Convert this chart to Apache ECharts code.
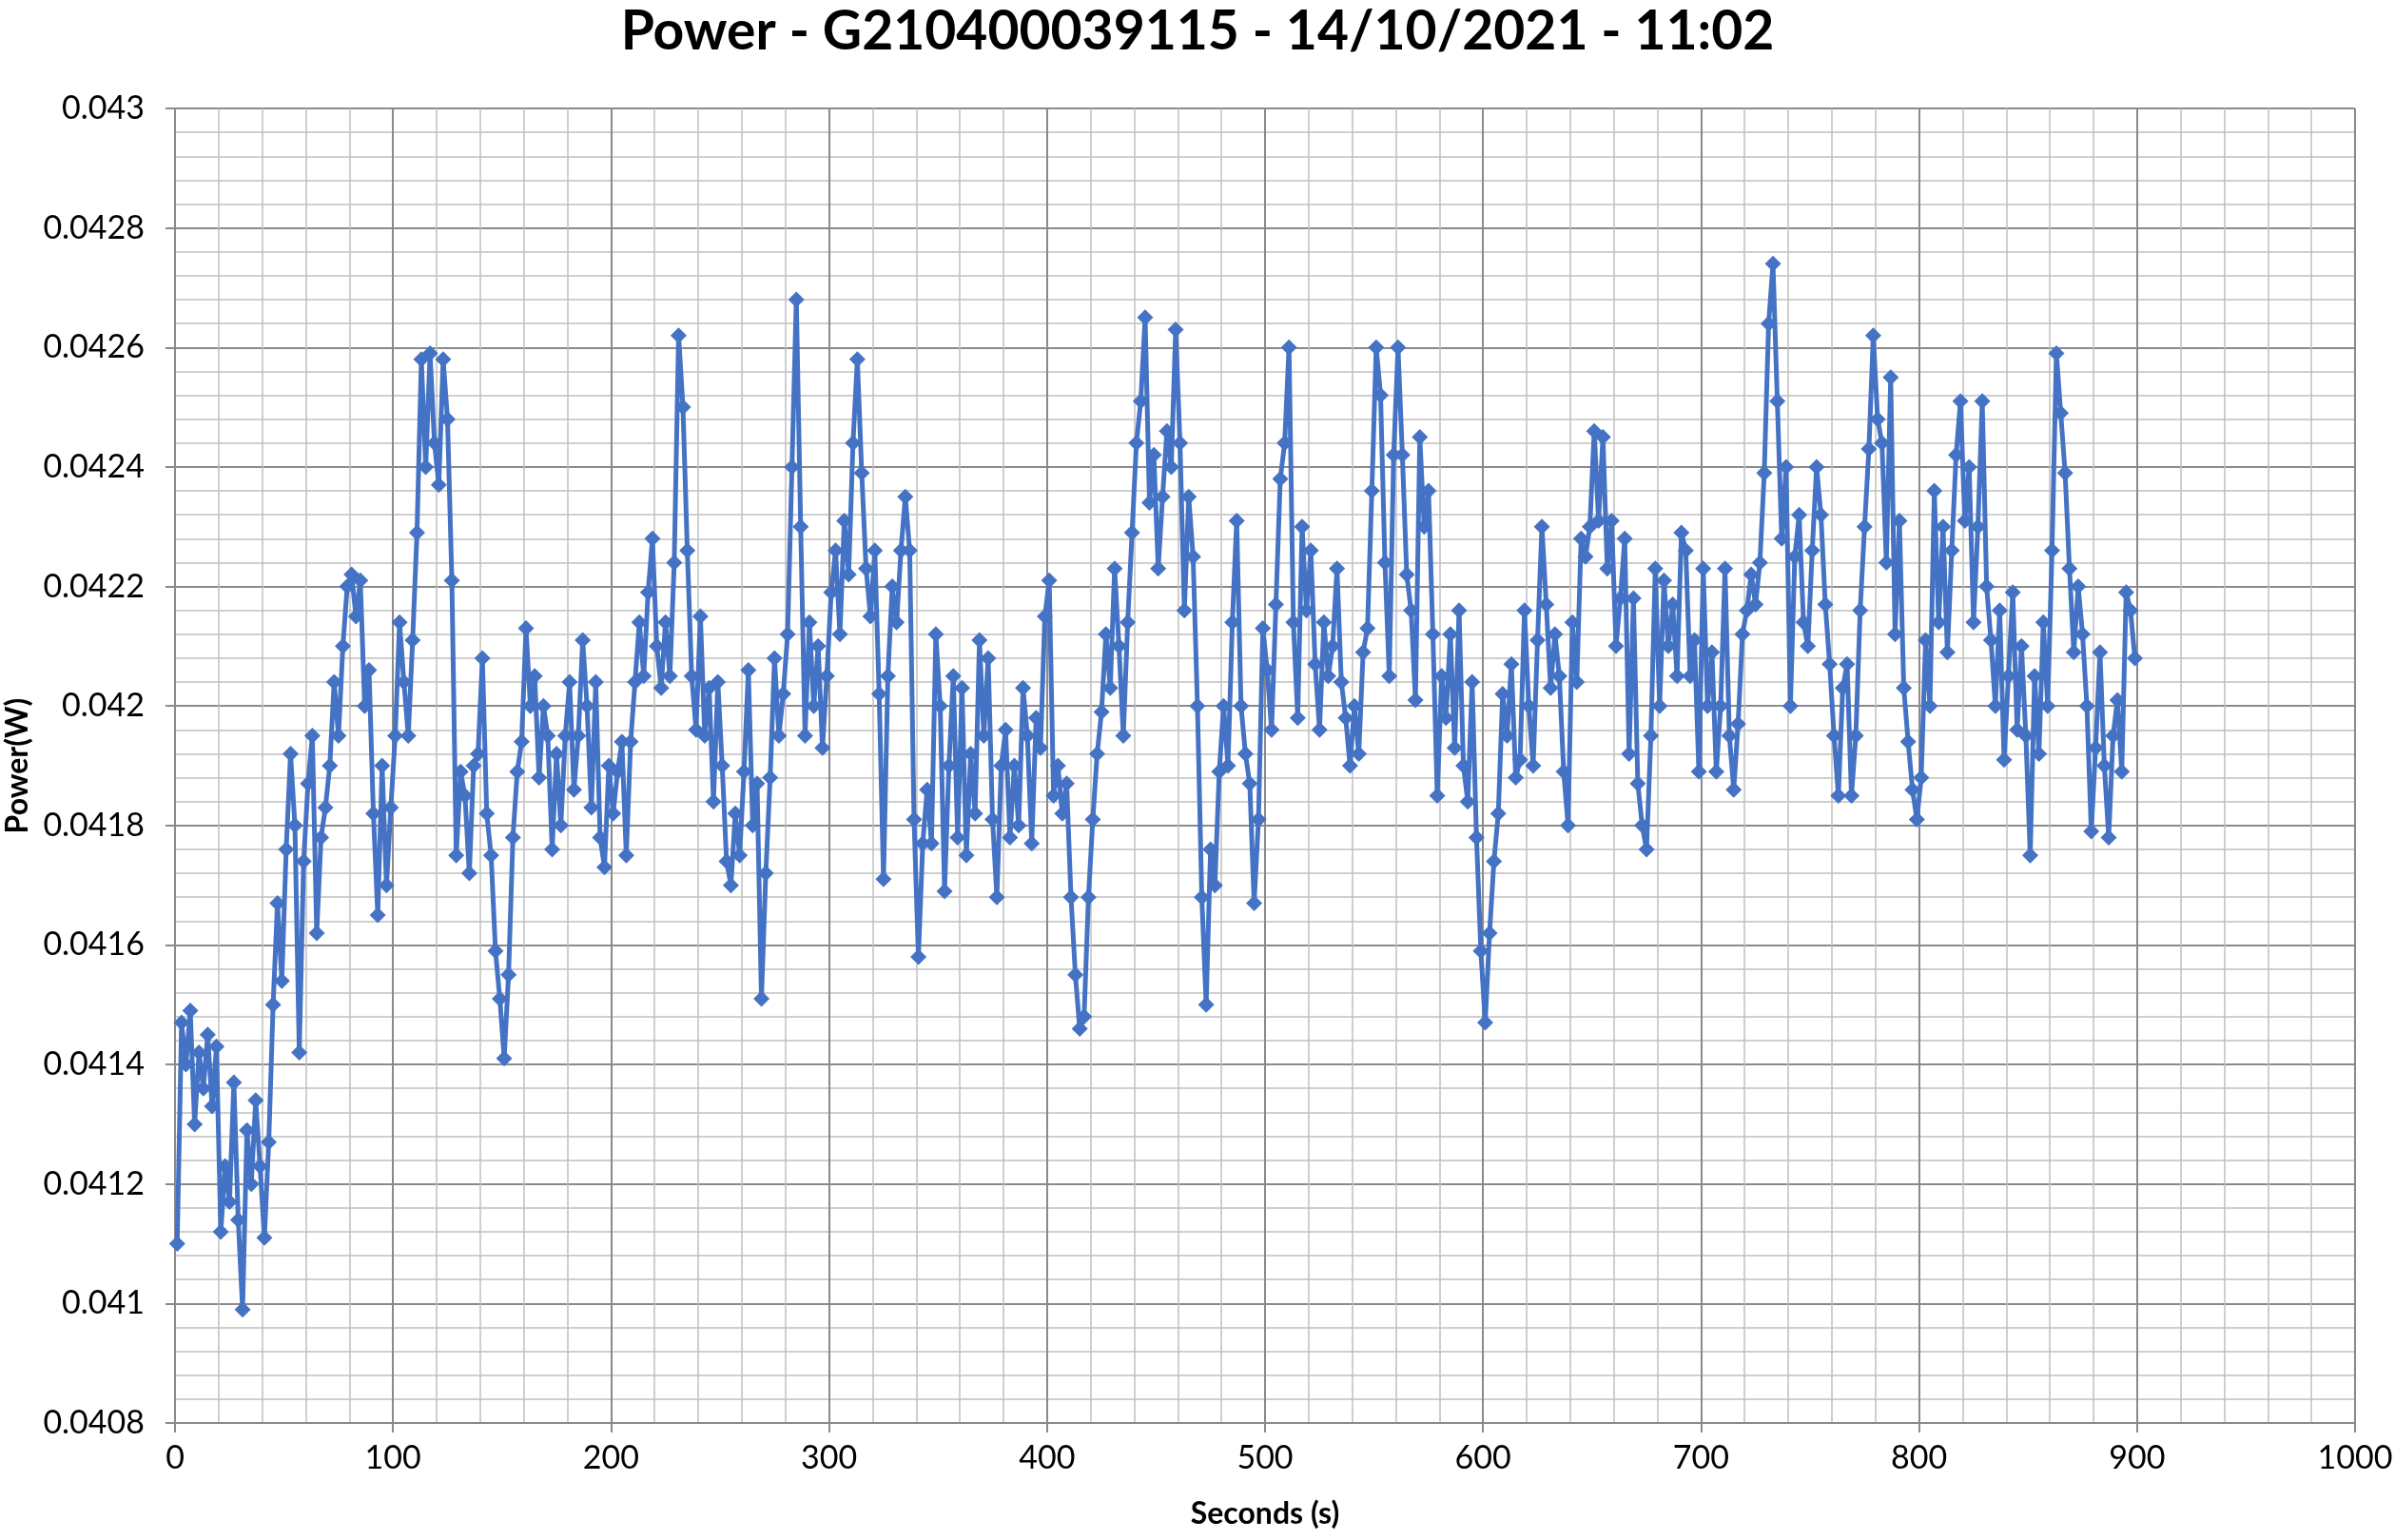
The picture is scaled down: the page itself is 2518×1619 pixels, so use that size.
<!DOCTYPE html>
<html>
<head>
<meta charset="utf-8">
<script src="https://cdn.jsdelivr.net/npm/echarts@6/dist/echarts.min.js"></script>
<style>
html,body{margin:0;padding:0;background:#fff;}
#chart{width:2518px;height:1619px;}
</style>
</head>
<body>
<div id="chart"></div>
<script>
// Chart text
const chartTitle = 'Power - G210400039115 - 14/10/2021 - 11:02';
const xAxisTitle = 'Seconds (s)';
const yAxisTitle = 'Power(W)';

// Axis ranges / ticks
const xTicks = [0, 100, 200, 300, 400, 500, 600, 700, 800, 900, 1000];
const yTicks = [0.0408, 0.041, 0.0412, 0.0414, 0.0416, 0.0418, 0.042, 0.0422, 0.0424, 0.0426, 0.0428, 0.043];

// Samples: one every 2 s, starting at 1 s
const sampleStart = 1;
const sampleStep = 2;
const power = [
  // 0-50 s
  0.04110,0.04147,0.04140,0.04149,0.04130,0.04142,0.04136,0.04145,0.04133,0.04143,
  0.04112,0.04123,0.04117,0.04137,0.04114,0.04099,0.04129,0.04120,0.04134,0.04123,
  0.04111,0.04127,0.04150,0.04167,0.04154,
  // 50-100 s
  0.04176,0.04192,0.04180,0.04142,0.04174,0.04187,0.04195,0.04162,0.04178,0.04183,
  0.04190,0.04204,0.04195,0.04210,0.04220,0.04222,0.04215,0.04221,0.04200,0.04206,
  0.04182,0.04165,0.04190,0.04170,0.04183,
  // 100-150 s
  0.04195,0.04214,0.04204,0.04195,0.04211,0.04229,0.04258,0.04240,0.04259,0.04244,
  0.04237,0.04258,0.04248,0.04221,0.04175,0.04189,0.04185,0.04172,0.04190,0.04192,
  0.04208,0.04182,0.04175,0.04159,0.04151,
  // 150-200 s
  0.04141,0.04155,0.04178,0.04189,0.04194,0.04213,0.04200,0.04205,0.04188,0.04200,
  0.04195,0.04176,0.04192,0.04180,0.04195,0.04204,0.04186,0.04195,0.04211,0.04200,
  0.04183,0.04204,0.04178,0.04173,0.04190,
  // 200-250 s
  0.04182,0.04189,0.04194,0.04175,0.04194,0.04204,0.04214,0.04205,0.04219,0.04228,
  0.04210,0.04203,0.04214,0.04205,0.04224,0.04262,0.04250,0.04226,0.04205,0.04196,
  0.04215,0.04195,0.04203,0.04184,0.04204,
  // 250-300 s
  0.04190,0.04174,0.04170,0.04182,0.04175,0.04189,0.04206,0.04180,0.04187,0.04151,
  0.04172,0.04188,0.04208,0.04195,0.04202,0.04212,0.04240,0.04268,0.04230,0.04195,
  0.04214,0.04200,0.04210,0.04193,0.04205,
  // 300-350 s
  0.04219,0.04226,0.04212,0.04231,0.04222,0.04244,0.04258,0.04239,0.04223,0.04215,
  0.04226,0.04202,0.04171,0.04205,0.04220,0.04214,0.04226,0.04235,0.04226,0.04181,
  0.04158,0.04177,0.04186,0.04177,0.04212,
  // 350-400 s
  0.04200,0.04169,0.04190,0.04205,0.04178,0.04203,0.04175,0.04192,0.04182,0.04211,
  0.04195,0.04208,0.04181,0.04168,0.04190,0.04196,0.04178,0.04190,0.04180,0.04203,
  0.04195,0.04177,0.04198,0.04193,0.04215,
  // 400-450 s
  0.04221,0.04185,0.04190,0.04182,0.04187,0.04168,0.04155,0.04146,0.04148,0.04168,
  0.04181,0.04192,0.04199,0.04212,0.04203,0.04223,0.04210,0.04195,0.04214,0.04229,
  0.04244,0.04251,0.04265,0.04234,0.04242,
  // 450-500 s
  0.04223,0.04235,0.04246,0.04240,0.04263,0.04244,0.04216,0.04235,0.04225,0.04200,
  0.04168,0.04150,0.04176,0.04170,0.04189,0.04200,0.04190,0.04214,0.04231,0.04200,
  0.04192,0.04187,0.04167,0.04181,0.04213,
  // 500-550 s
  0.04206,0.04196,0.04217,0.04238,0.04244,0.04260,0.04214,0.04198,0.04230,0.04216,
  0.04226,0.04207,0.04196,0.04214,0.04205,0.04210,0.04223,0.04204,0.04198,0.04190,
  0.04200,0.04192,0.04209,0.04213,0.04236,
  // 550-600 s
  0.04260,0.04252,0.04224,0.04205,0.04242,0.04260,0.04242,0.04222,0.04216,0.04201,
  0.04245,0.04230,0.04236,0.04212,0.04185,0.04205,0.04198,0.04212,0.04193,0.04216,
  0.04190,0.04184,0.04204,0.04178,0.04159,
  // 600-650 s
  0.04147,0.04162,0.04174,0.04182,0.04202,0.04195,0.04207,0.04188,0.04191,0.04216,
  0.04200,0.04190,0.04211,0.04230,0.04217,0.04203,0.04212,0.04205,0.04189,0.04180,
  0.04214,0.04204,0.04228,0.04225,0.04230,
  // 650-700 s
  0.04246,0.04231,0.04245,0.04223,0.04231,0.04210,0.04218,0.04228,0.04192,0.04218,
  0.04187,0.04180,0.04176,0.04195,0.04223,0.04200,0.04221,0.04210,0.04217,0.04205,
  0.04229,0.04226,0.04205,0.04211,0.04189,
  // 700-750 s
  0.04223,0.04200,0.04209,0.04189,0.04200,0.04223,0.04195,0.04186,0.04197,0.04212,
  0.04216,0.04222,0.04217,0.04224,0.04239,0.04264,0.04274,0.04251,0.04228,0.04240,
  0.04200,0.04225,0.04232,0.04214,0.04210,
  // 750-800 s
  0.04226,0.04240,0.04232,0.04217,0.04207,0.04195,0.04185,0.04203,0.04207,0.04185,
  0.04195,0.04216,0.04230,0.04243,0.04262,0.04248,0.04244,0.04224,0.04255,0.04212,
  0.04231,0.04203,0.04194,0.04186,0.04181,
  // 800-850 s
  0.04188,0.04211,0.04200,0.04236,0.04214,0.04230,0.04209,0.04226,0.04242,0.04251,
  0.04231,0.04240,0.04214,0.04230,0.04251,0.04220,0.04211,0.04200,0.04216,0.04191,
  0.04205,0.04219,0.04196,0.04210,0.04195,
  // 850-900 s
  0.04175,0.04205,0.04192,0.04214,0.04200,0.04226,0.04259,0.04249,0.04239,0.04223,
  0.04209,0.04220,0.04212,0.04200,0.04179,0.04193,0.04209,0.04190,0.04178,0.04195,
  0.04201,0.04189,0.04219,0.04216,0.04208
];

const seriesData = power.map((v, i) => [sampleStart + sampleStep * i, v]);

const FONT = 'Lato';
const chart = echarts.init(document.getElementById('chart'), null, {renderer: 'canvas'});
chart.setOption({
  animation: false,
  backgroundColor: '#ffffff',
  title: {
    text: chartTitle,
    left: 'center',
    top: 0,
    textStyle: {fontFamily: FONT, fontSize: 57, fontWeight: 'bold', color: '#000'}
  },
  grid: {left: 184, right: 42, top: 114, bottom: 123, containLabel: false, outerBoundsMode: 'none'},
  xAxis: {
    type: 'value',
    min: xTicks[0],
    max: xTicks[xTicks.length - 1],
    interval: xTicks[1] - xTicks[0],
    name: xAxisTitle,
    nameLocation: 'middle',
    nameGap: 80,
    nameTextStyle: {fontFamily: FONT, fontSize: 32, fontWeight: 'bold', color: '#000'},
    axisLine: {show: true, lineStyle: {color: '#8a8a8a', width: 2}},
    axisTick: {show: true, length: 10, lineStyle: {color: '#8a8a8a', width: 2}},
    axisLabel: {fontFamily: FONT, fontSize: 34, color: '#000', margin: 20,
      formatter: v => String(v)},
    splitLine: {show: true, lineStyle: {color: '#8a8a8a', width: 2}},
    minorTick: {show: false, splitNumber: 5},
    minorSplitLine: {show: true, lineStyle: {color: '#c0c0c0', width: 1.5}}
  },
  yAxis: {
    type: 'value',
    min: yTicks[0],
    max: yTicks[yTicks.length - 1],
    interval: 0.0002,
    name: yAxisTitle,
    nameLocation: 'middle',
    nameRotate: 90,
    nameGap: 142,
    nameTextStyle: {fontFamily: FONT, fontSize: 32, fontWeight: 'bold', color: '#000'},
    axisLine: {show: true, lineStyle: {color: '#8a8a8a', width: 2}},
    axisTick: {show: true, length: 10, lineStyle: {color: '#8a8a8a', width: 2}},
    axisLabel: {
      fontFamily: FONT, fontSize: 34, color: '#000', margin: 32,
      formatter: v => String(+v.toFixed(4))
    },
    splitLine: {show: true, lineStyle: {color: '#8a8a8a', width: 2}},
    minorTick: {show: false, splitNumber: 5},
    minorSplitLine: {show: true, lineStyle: {color: '#c0c0c0', width: 1.5}}
  },
  series: [{
    type: 'line',
    data: seriesData,
    symbol: 'diamond',
    symbolSize: 17,
    showAllSymbol: true,
    lineStyle: {color: '#4472C4', width: 5},
    itemStyle: {color: '#4472C4'},
    emphasis: {disabled: true}
  }]
});
</script>
</body>
</html>
